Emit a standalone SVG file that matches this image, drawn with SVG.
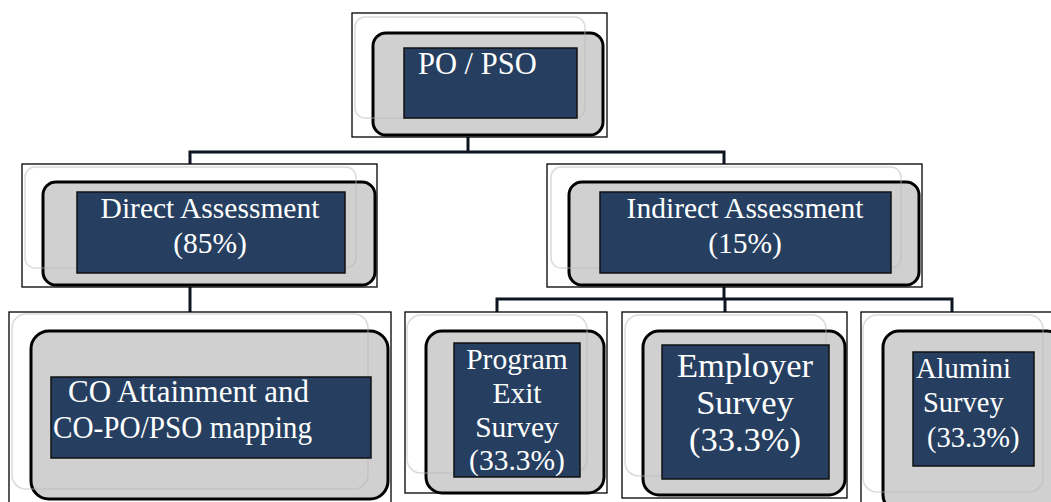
<svg xmlns="http://www.w3.org/2000/svg" width="1051" height="502" viewBox="0 0 1051 502">
<style>
.outer{fill:#fff;stroke:#000;stroke-width:1.3}
.faint{fill:none;stroke:#b8b8b8;stroke-opacity:0.5;stroke-width:1.5}
.gray{fill:#d0d0d0;stroke:#000;stroke-width:3}
.navy{fill:#263f61;stroke:#111;stroke-width:1.5}
.t{fill:#fff;font-family:"Liberation Serif","Times New Roman",serif;font-size:29.5px}
.c{text-anchor:middle}
.conn{fill:none;stroke:#0d1520;stroke-width:3}
</style>
<rect width="1051" height="502" fill="#fff"/>
<g id="connectors">
<polyline class="conn" points="468,137 468,152"/>
<polyline class="conn" points="190,165 190,152 724,152 724,164"/>
<polyline class="conn" points="190,287 190,313"/>
<polyline class="conn" points="724,287 724,299"/>
<polyline class="conn" points="497,312 497,299 952,299 952,312"/>
<polyline class="conn" points="725,299 725,312"/>
</g>
<g id="node-po">
<rect class="outer" x="352" y="13" width="255" height="124"/>
<rect class="gray" x="373" y="33" width="230" height="102" rx="13"/>
<rect class="faint" x="355" y="17" width="230" height="101" rx="10"/>
<rect class="navy" x="404" y="48" width="173" height="70"/>
<text class="t" x="418" y="74" style="font-size:30.5px">PO / PSO</text>
</g>
<g id="node-direct">
<rect class="outer" x="22" y="164" width="355" height="123"/>
<rect class="gray" x="43" y="182" width="332" height="103" rx="13"/>
<rect class="faint" x="25" y="167" width="331" height="101" rx="10"/>
<rect class="navy" x="77" y="192" width="268" height="81"/>
<text class="t c" x="210" y="218">Direct Assessment</text>
<text class="t c" x="210" y="253">(85%)</text>
</g>
<g id="node-indirect">
<rect class="outer" x="547" y="164" width="375" height="123"/>
<rect class="gray" x="569" y="182" width="350" height="103" rx="13"/>
<rect class="faint" x="551" y="167" width="350" height="101" rx="10"/>
<rect class="navy" x="600" y="192" width="291" height="81"/>
<text class="t c" x="745" y="218">Indirect Assessment</text>
<text class="t c" x="745" y="253">(15%)</text>
</g>
<g id="node-co">
<rect class="outer" x="9" y="312" width="382" height="200"/>
<rect class="gray" x="31" y="331" width="357" height="168" rx="18"/>
<rect class="faint" x="12" y="314" width="356" height="175" rx="14"/>
<rect class="navy" x="51" y="377" width="320" height="81"/>
<text class="t" x="68" y="402" style="font-size:31px">CO Attainment and</text>
<text class="t" x="53" y="438" style="font-size:31px" textLength="259" lengthAdjust="spacingAndGlyphs">CO-PO/PSO mapping</text>
</g>
<g id="node-exit">
<rect class="outer" x="405" y="312" width="202" height="181"/>
<rect class="gray" x="426" y="331" width="178" height="162" rx="16"/>
<rect class="faint" x="407" y="315" width="180" height="158" rx="14"/>
<rect class="navy" x="454" y="343" width="126" height="134"/>
<text class="t c" x="517" y="369">Program</text>
<text class="t c" x="517" y="403">Exit</text>
<text class="t c" x="517" y="437">Survey</text>
<text class="t c" x="517" y="470">(33.3%)</text>
</g>
<g id="node-employer">
<rect class="outer" x="622" y="312" width="225" height="186"/>
<rect class="gray" x="643" y="331" width="202" height="164" rx="16"/>
<rect class="faint" x="625" y="315" width="201" height="161" rx="14"/>
<rect class="navy" x="662" y="345" width="167" height="134"/>
<text class="t c" x="745" y="377" style="font-size:34.5px">Employer</text>
<text class="t c" x="745" y="414" style="font-size:34.5px">Survey</text>
<text class="t c" x="745" y="451" style="font-size:34.5px">(33.3%)</text>
</g>
<g id="node-alumni">
<rect class="outer" x="861" y="312" width="200" height="200"/>
<rect class="gray" x="883" y="331" width="180" height="180" rx="16"/>
<rect class="faint" x="863" y="315" width="180" height="177" rx="14"/>
<rect class="navy" x="913" y="352" width="121" height="114"/>
<text class="t" x="916" y="378" style="font-size:28.5px">Alumini</text>
<text class="t" x="923" y="412" style="font-size:28.5px">Survey</text>
<text class="t" x="927" y="447" style="font-size:28.5px">(33.3%)</text>
</g>
</svg>
